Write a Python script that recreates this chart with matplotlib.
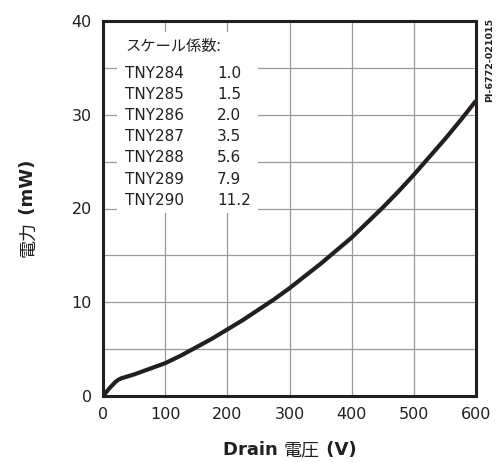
import matplotlib
matplotlib.use("Agg")
import matplotlib.pyplot as plt
from matplotlib.patches import Rectangle

# Drain voltage (V) vs. power (mW)
drain_v = [0, 5, 10, 15, 20, 25, 30, 40, 50, 75, 100, 125, 150, 175, 200, 225, 250,
           275, 300, 325, 350, 375, 400, 425, 450, 475, 500, 525, 550, 575, 600]
power_mw = [0, 0.4, 0.8, 1.15, 1.5, 1.75, 1.9, 2.1, 2.3, 2.9, 3.5, 4.3, 5.2, 6.1, 7.1, 8.1, 9.2,
            10.3, 11.5, 12.8, 14.1, 15.5, 16.9, 18.5, 20.1, 21.8, 23.6, 25.5, 27.4, 29.4, 31.5]

# Scale factors per device
devices = ["TNY284", "TNY285", "TNY286", "TNY287", "TNY288", "TNY289", "TNY290"]
factors = ["1.0", "1.5", "2.0", "3.5", "5.6", "7.9", "11.2"]

x_ticks = [0, 100, 200, 300, 400, 500, 600]
y_ticks = [0, 10, 20, 30, 40]

CJK = ["Noto Sans CJK JP", "DejaVu Sans"]
LAT = ["DejaVu Sans", "Noto Sans CJK JP"]
INK = "#231f20"

fig = plt.figure(figsize=(4.99, 4.62), dpi=100)
W, H = 499, 462
ax = fig.add_axes([103 / W, 1 - 396 / H, (476 - 103) / W, (396 - 21) / H])

ax.plot(drain_v, power_mw, color=INK, lw=3.0, solid_capstyle="butt",
        solid_joinstyle="round", zorder=4)

ax.set_xlim(0, 600)
ax.set_ylim(0, 40)
ax.set_xticks(x_ticks)
ax.set_yticks(y_ticks)
ax.set_yticks([5, 15, 25, 35], minor=True)
ax.grid(which="both", color="#9a9a9a", lw=0.9, zorder=1)
ax.set_axisbelow(True)
ax.tick_params(which="both", length=0, pad=8, labelsize=11.5, labelcolor=INK)
for lab in ax.get_xticklabels() + ax.get_yticklabels():
    lab.set_family(LAT)
for s in ax.spines.values():
    s.set_linewidth(2.2)
    s.set_color(INK)
    s.set_zorder(5)

# White panel behind the scale-factor table
ax.add_patch(Rectangle((0.038, 0.487), 0.378, 0.484, transform=ax.transAxes,
                       facecolor="white", edgecolor="none", zorder=2))
ax.text(0.059, 0.931, "スケール係数:", transform=ax.transAxes, family=CJK,
        fontsize=11, va="center", ha="left", color=INK, zorder=3)
for i, (d, f) in enumerate(zip(devices, factors)):
    yy = 0.861 - i * 0.0565
    ax.text(0.059, yy, d, transform=ax.transAxes, family=LAT, fontsize=11,
            va="center", ha="left", color=INK, zorder=3)
    ax.text(0.306, yy, f, transform=ax.transAxes, family=LAT, fontsize=11,
            va="center", ha="left", color=INK, zorder=3)

fig.text(490 / W, 1 - 18 / H, "PI-6772-021015", rotation=90, fontsize=6.8,
         fontweight="bold", family=LAT, ha="center", va="top", color=INK)

# Axis titles built from pieces of mixed weight
fig.canvas.draw()
renderer = fig.canvas.get_renderer()


def mixed_label(pieces, cx, cy, vertical=False):
    texts = []
    for s, weight, fam in pieces:
        t = fig.text(0, 0, s, fontsize=13, fontweight=weight, family=fam,
                     color=INK, rotation=90 if vertical else 0,
                     ha="left", va="baseline", rotation_mode="anchor")
        texts.append(t)
    sizes = []
    for t in texts:
        bb = t.get_window_extent(renderer)
        sizes.append(bb.height if vertical else bb.width)
    total = sum(sizes)
    pos = (cy if vertical else cx) - total / 2
    for t, sz in zip(texts, sizes):
        if vertical:
            t.set_position((cx / W, pos / H))
        else:
            t.set_position((pos / W, cy / H))
        pos += sz


mixed_label([("Drain ", "bold", LAT), ("電圧", "normal", CJK), (" (V)", "bold", LAT)],
            289.5, H - 455)
mixed_label([("電力", "normal", CJK), (" (mW)", "bold", LAT)],
            33, H - 208, vertical=True)

fig.savefig("out.png", dpi=100, facecolor="white")
